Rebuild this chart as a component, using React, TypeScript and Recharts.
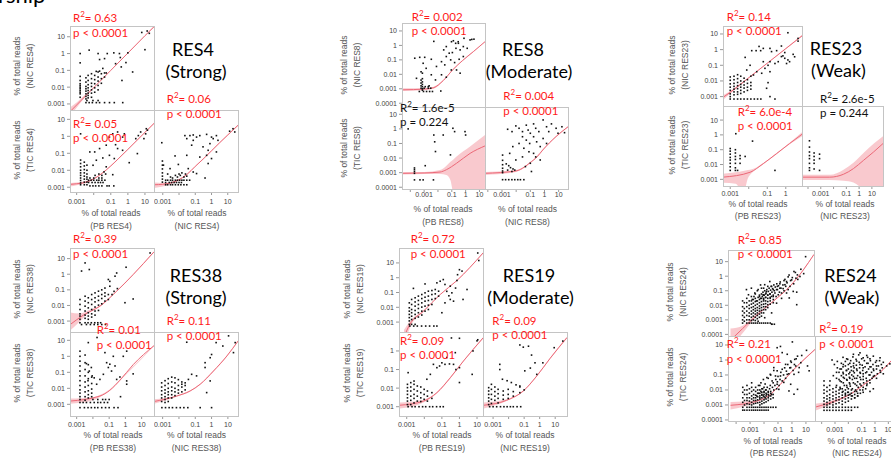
import React from 'react';
import { ComposedChart, XAxis, YAxis, Scatter, Line, Area } from 'recharts';

type Pair = [number, number];
type Stack = [number, number[]];
type Band = [number, number, number];

// ---------- RES4 ----------
// a: PB vs NIC, b: PB vs TIC, c: NIC vs TIC
const res4aPts: Pair[] = [[6.5,18],[13.5,22],[18,16],[10,1.7],[0.0016,1],[0.0016,0.28],[0.0054,1.6],[0.018,1],[0.062,1],[0.15,1.1],[0.32,1],[1,1.1],[0.36,0.58],[0.043,0.5],[0.19,0.25],[0.77,0.29],[0.41,0.16],[1.9,0.08],[0.45,0.025],[0.022,0.44],[0.014,0.087],[0.022,0.09],[0.034,0.13],[0.054,0.07],[0.5,0.0012],[0.16,0.0012],[0.084,0.0012]];
const res4aCols: Stack[] = [[0.0016,[0.044,0.025,0.016,0.0126,0.01,0.008,0.0063,0.005,0.004,0.0025]],[0.0035,[0.036,0.02,0.011,0.008,0.0058,0.004,0.0028,0.002]],[0.0047,[0.05,0.025,0.014,0.0091,0.0063,0.0044,0.0032,0.0023]],[0.0074,[0.063,0.032,0.017,0.011,0.0069,0.0044,0.0025]],[0.0114,[0.05,0.028,0.016,0.0091,0.005]],[0.018,[0.08,0.04,0.023,0.0126,0.0069]],[0.028,[0.063,0.032,0.017]],[0.043,[0.07,0.04]]];
const res4aRows: Stack[] = [[0.0012,[0.0035,0.0054,0.0083,0.0142,0.022,0.043]],[0.0016,[0.004,0.009,0.018]]];
const res4aFit: Pair[] = [[0.0004,0.00034],[0.001,0.00087],[0.01,0.0093],[0.1,0.1],[1,1.07],[10,11.5],[40,47]];
const res4aBand: Band[] = [[0.0004,0.0002,0.0006],[0.001,0.0006,0.0012],[0.003,0.0024,0.0034],[0.01,0.0088,0.0098],[0.1,0.097,0.103],[1,1.03,1.11],[10,11,12],[40,44,50]];

const res4bPts: Pair[] = [[11,1.4],[14,2.3],[4.1,1.1],[0.62,1.4],[5.6,1.8],[12,2.8],[2.9,0.73],[8.7,0.73],[0.0017,1.4],[0.083,0.9],[0.13,1.4],[0.25,1.8],[0.49,0.9],[0.19,0.32],[0.054,0.3],[0.022,0.19],[0.25,0.19],[0.49,0.15],[0.0114,0.12],[0.083,0.076],[0.16,0.049],[0.034,0.053],[0.0059,0.12],[0.0142,0.039],[1.2,0.028],[3.6,0.096],[0.0091,0.0197],[0.054,0.016],[0.13,0.0055],[0.012,0.005],[0.02,0.006],[0.03,0.005],[0.04,0.008],[0.05,0.006]];
const res4bCols: Stack[] = [[0.0017,[0.04,0.025,0.016,0.01,0.007,0.005,0.0035,0.0025,0.0018,0.0014]],[0.0028,[0.03,0.018,0.011,0.007,0.0045,0.003,0.002,0.0014]],[0.004,[0.02,0.01,0.006,0.004,0.003,0.002,0.0014]]];
const res4bRows: Stack[] = [[0.0026,[0.005,0.007,0.01,0.015,0.02,0.03,0.045]],[0.0019,[0.005,0.008,0.012,0.018,0.025,0.035]],[0.0012,[0.006,0.009,0.013,0.02,0.03,0.06,0.08,0.15]],[0.0035,[0.006,0.01,0.02,0.03]]];
const res4bFit: Pair[] = [[0.0004,0.00147],[0.001,0.0016],[0.003,0.0019],[0.01,0.0031],[0.03,0.0065],[0.1,0.018],[0.3,0.052],[1,0.17],[3,0.51],[10,1.7],[34,5.8]];
const res4bBand: Band[] = [[0.0004,0.0011,0.0018],[0.001,0.0013,0.0019],[0.01,0.0028,0.0034],[0.1,0.017,0.019],[1,0.16,0.18],[10,1.6,1.8],[34,5.4,6.2]];

const res4cPts: Pair[] = [[21,2.8],[13,2],[27,1.8],[0.023,1.1],[0.047,1.1],[0.075,1.2],[0.12,0.9],[0.19,1.1],[0.5,1.3],[1,0.9],[2,1.1],[0.03,0.73],[0.075,0.58],[1.27,0.73],[2.5,0.58],[0.00087,0.42],[0.06,0.3],[0.3,0.24],[0.8,0.37],[0.62,0.15],[2,0.12],[0.19,0.06],[0.5,0.076],[1,0.049],[0.62,0.025],[0.03,0.076],[0.0057,0.07],[0.0091,0.022],[0.0028,0.0125],[0.0011,0.02],[0.037,0.0125],[0.075,0.0079],[0.4,0.0035],[0.12,0.0064],[0.002,0.006],[0.003,0.004],[0.004,0.0035],[0.006,0.005],[0.008,0.004],[0.01,0.006],[0.012,0.005],[0.015,0.007],[0.02,0.004],[0.025,0.006],[0.03,0.0045]];
const res4cCols: Stack[] = [[0.00095,[0.035,0.02,0.012,0.007,0.0045,0.003,0.002]]];
const res4cRows: Stack[] = [[0.0026,[0.0015,0.002,0.003,0.004,0.006,0.008,0.011,0.015,0.02,0.03,0.045]],[0.0019,[0.0015,0.0025,0.0035,0.005,0.007,0.01,0.014]],[0.0014,[0.0015,0.002,0.003,0.004,0.006,0.009,0.013,0.02,0.03]]];
const res4cFit: Pair[] = [[0.0003,0.0014],[0.001,0.0015],[0.01,0.0028],[0.03,0.0055],[0.1,0.017],[0.3,0.045],[1,0.14],[3,0.4],[10,1.2],[43,4.5]];
const res4cBand: Band[] = [[0.0003,0.0009,0.0019],[0.001,0.0011,0.0018],[0.01,0.0025,0.0031],[0.1,0.016,0.018],[1,0.13,0.15],[10,1.1,1.3],[43,4.1,4.9]];

// ---------- RES8 ----------
const res8aPts: Pair[] = [[0.76,3.1],[0.095,1.8],[0.29,1.8],[2.8,2.6],[0.19,1.4],[0.005,1.9],[0.00021,0.13],[0.00048,0.15],[0.0011,0.15],[0.0033,0.11],[0.04,0.17],[0.083,0.1],[0.16,0.065],[0.34,0.11],[0.68,0.17],[0.018,0.075],[0.031,0.045],[0.065,0.29],[0.11,0.32],[0.2,0.63],[0.4,0.49],[0.68,0.83],[1.3,0.63],[0.3,1.4],[0.13,2.1],[2.1,2.4],[4,2.7],[0.04,0.83],[0.026,0.49],[0.0078,0.035],[0.0014,0.026],[0.0006,0.015],[0.0033,0.0093],[0.018,0.0093],[0.092,0.02],[0.22,0.02],[0.4,0.012],[0.04,0.0063],[0.00028,0.0053],[0.00085,0.058],[0.0066,0.0041],[0.0023,0.0016],[0.016,0.0007]];
const res8aCols: Stack[] = [[0.00075,[0.012,0.005,0.003,0.002,0.0014,0.001,0.0008]],[0.0006,[0.004,0.0025,0.0016,0.0011]]];
const res8aRows: Stack[] = [[0.00065,[0.00045,0.0009,0.0015,0.0025,0.004]],[0.0011,[0.001,0.002,0.003]],[0.0014,[0.0012,0.002]]];
const res8aFit: Pair[] = [[0.00003,0.00085],[0.001,0.00095],[0.005,0.0012],[0.024,0.0037],[0.125,0.022],[0.6,0.09],[3.6,0.37],[25,1.8]];
const res8aBand: Band[] = [[0.00003,0.0007,0.0011],[0.001,0.0008,0.0011],[0.005,0.001,0.0014],[0.024,0.0034,0.004],[0.125,0.021,0.023],[0.6,0.085,0.095],[3.6,0.35,0.39],[25,1.7,1.9]];

const res8bPts: Pair[] = [[0.005,0.38],[0.024,0.38],[0.0058,0.13],[0.0066,0.028],[0.12,1.1],[0.16,0.65],[0.9,0.65],[1.0,0.38],[0.08,0.0165],[0.00007,1],[0.0012,0.003],[0.0047,0.00032]];
const res8bCols: Stack[] = [[0.0002,[0.0021,0.0016,0.0012,0.0009,0.00032]]];
const res8bRows: Stack[] = [[0.00032,[0.0005,0.00085]]];
const res8bFit: Pair[] = [[0.00003,0.0009],[0.001,0.00095],[0.014,0.0011],[0.041,0.0016],[0.22,0.0044],[2.1,0.021],[25,0.068]];
const res8bBand: Band[] = [[0.00003,0.00075,0.0011],[0.001,0.0008,0.0011],[0.014,0.0008,0.0015],[0.041,0.0007,0.003],[0.08,0.0003,0.0055],[0.13,0.00003,0.008],[0.22,0.00001,0.0126],[2.1,0.00001,0.061],[25,0.00001,0.38]];

const res8cPts: Pair[] = [[0.0025,0.94],[0.0051,0.65],[0.0095,1.6],[0.016,1.1],[0.028,0.65],[0.052,1.8],[0.07,0.83],[0.1,0.5],[0.17,2.2],[0.24,1.1],[0.4,0.65],[0.8,4.1],[1.4,1.4],[2,0.65],[3.1,2.2],[6.6,1.1],[9,0.5],[17,1.4],[26,0.55],[0.028,0.29],[0.052,0.17],[0.09,0.1],[0.17,0.29],[0.28,0.13],[0.5,0.061],[0.8,0.22],[1.4,0.1],[0.016,0.1],[0.035,0.047],[0.08,0.027],[0.17,0.021],[0.0058,0.061],[0.0035,0.021],[0.028,0.012],[0.24,0.012],[0.5,0.0074],[0.1,0.0044],[0.0095,0.0074],[0.045,0.0026],[0.12,0.0012],[0.002,0.004],[0.003,0.003],[0.004,0.0022],[0.006,0.0018],[0.008,0.0015],[0.0025,0.0015],[0.005,0.0012]];
const res8cCols: Stack[] = [[0.0011,[0.016,0.007,0.0035,0.002,0.0013,0.001]]];
const res8cRows: Stack[] = [[0.00033,[0.0011,0.0018,0.003,0.005,0.008,0.013,0.02,0.035]]];
const res8cFit: Pair[] = [[0.00006,0.0009],[0.0095,0.0013],[0.04,0.0025],[0.085,0.0044],[0.3,0.012],[0.76,0.036],[6.6,0.3],[46,1.4]];
const res8cBand: Band[] = [[0.00006,0.0007,0.0011],[0.0095,0.0011,0.0015],[0.085,0.004,0.0048],[0.76,0.033,0.039],[6.6,0.28,0.32],[46,1.3,1.5]];

// ---------- RES23 ----------
const res23aPts: Pair[] = [[1.3,12],[4.6,5.2],[4.6,3.5],[0.036,1.6],[0.025,0.86],[0.0145,0.86],[0.044,0.86],[0.061,1.2],[0.14,1.2],[0.17,0.75],[0.32,0.86],[0.58,1.7],[0.88,0.65],[0.58,0.36],[0.88,0.28],[1.3,0.22],[1.6,0.17],[1.1,0.13],[0.39,0.17],[0.26,0.13],[0.14,0.17],[0.11,0.1],[0.061,0.17],[0.075,0.064],[0.14,0.039],[0.05,0.031],[0.027,0.039],[0.018,0.024],[0.0064,0.32],[0.0118,0.1],[0.0078,0.05],[0.11,0.0078],[0.092,0.0034],[0.14,0.001],[0.26,0.0007],[2.5,0.5],[3,0.35],[0.7,0.4]];
const res23aCols: Stack[] = [[0.001,[0.018,0.011,0.0065,0.004,0.0025,0.0015,0.001,0.0007]],[0.0016,[0.02,0.012,0.007,0.0045,0.003,0.002,0.0013,0.0007]],[0.0025,[0.025,0.014,0.008,0.005,0.0032,0.002,0.0014,0.0007]],[0.0037,[0.02,0.01,0.006,0.004,0.0025,0.0016,0.0007]],[0.0056,[0.015,0.009,0.0055,0.0035,0.002,0.0007]],[0.0085,[0.012,0.007,0.004,0.0025,0.0007]],[0.013,[0.02,0.008,0.005,0.003,0.0007]]];
const res23aRows: Stack[] = [[0.0007,[0.02,0.03,0.045]]];
const res23aFit: Pair[] = [[0.0004,0.00087],[0.001,0.0019],[0.01,0.016],[0.1,0.136],[1,1.16],[7.5,7.6]];
const res23aBand: Band[] = [[0.0004,0.0006,0.0012],[0.001,0.0015,0.0023],[0.01,0.015,0.017],[0.1,0.13,0.142],[1,1.08,1.25],[7.5,6.8,8.5]];

const res23bPts: Pair[] = [[0.002,1.2],[0.016,0.38],[0.26,0.004],[0.0064,0.035],[0.0025,0.004]];
const res23bCols: Stack[] = [[0.001,[0.12,0.08,0.05,0.03,0.02,0.012,0.007,0.004]],[0.0019,[0.1,0.06,0.035,0.022,0.012,0.006,0.004]],[0.0034,[0.04,0.025,0.012]]];
const res23bFit: Pair[] = [[0.0004,0.0014],[0.0118,0.003],[0.061,0.0115],[0.32,0.055],[1.6,0.26],[7.5,1.1]];
const res23bBand: Band[] = [[0.0004,0.0006,0.0024],[0.002,0.0005,0.003],[0.005,0.0001,0.0036],[0.009,0.0012,0.0042],[0.015,0.0028,0.0048],[0.061,0.0105,0.0128],[0.32,0.05,0.06],[1.6,0.23,0.3],[7.5,0.8,1.5]];

const res23cCols: Stack[] = [[0.00013,[0.4,0.15,0.07,0.04,0.025,0.012,0.006,0.004]],[0.0003,[0.06,0.035,0.02,0.012,0.005]],[0.0008,[0.05,0.025,0.004]]];
const res23cFit: Pair[] = [[0.00003,0.0014],[0.005,0.0014],[0.06,0.0022],[0.36,0.0053],[2.2,0.019],[13.5,0.07],[74,0.26]];
const res23cBand: Band[] = [[0.00003,0.0009,0.002],[0.005,0.0009,0.002],[0.06,0.0008,0.0045],[0.36,0.0006,0.013],[2.2,0.0002,0.06],[13.5,0.00005,0.25],[74,0.00002,0.8]];

// ---------- RES38 ----------
const res38aPts: Pair[] = [[0.0033,5.3],[0.006,2.0],[0.002,1.6],[1.1,2.8],[0.29,1.2],[0.23,0.75],[0.089,0.46],[0.11,0.35],[0.055,0.13],[0.32,0.12],[0.94,0.015],[3,0.026],[33,23],[0.11,0.17],[0.15,0.05],[0.2,0.08]];
const res38aCols: Stack[] = [[0.0016,[0.024,0.0116,0.0055,0.0029,0.0021,0.0013,0.00078]],[0.0033,[0.039,0.019,0.009,0.0044,0.0024,0.0015,0.00078]],[0.0052,[0.031,0.015,0.007,0.0034,0.0021,0.0013]],[0.0084,[0.05,0.024,0.0116,0.0055,0.0029,0.0018]],[0.0135,[0.064,0.031,0.017,0.0079,0.0044,0.0024]],[0.022,[0.082,0.039,0.021,0.0105,0.0048]],[0.035,[0.1,0.05,0.028,0.0128]],[0.055,[0.064,0.039,0.019]],[0.089,[0.05,0.024]]];
const res38aRows: Stack[] = [[0.00078,[0.005,0.008,0.013,0.02,0.03]],[0.0006,[0.002,0.004,0.007,0.012,0.02,0.035,0.06]]];
const res38aFit: Pair[] = [[0.0004,0.0006],[0.0026,0.0024],[0.027,0.009],[0.29,0.082],[3,0.95],[57,27]];
const res38aBand: Band[] = [[0.0004,0.00025,0.0035],[0.0015,0.0009,0.003],[0.005,0.0032,0.0048],[0.027,0.0083,0.0098],[0.29,0.078,0.087],[3,0.9,1.0],[57,25,29]];

const res38bPts: Pair[] = [[0.018,15],[0.0052,7.2],[0.055,1.7],[0.18,1.0],[1.2,2.1],[0.74,1.0],[0.07,0.4],[0.11,0.32],[0.089,0.2],[0.23,0.25],[0.14,0.12],[0.044,0.075],[0.027,0.036],[0.017,0.018],[0.29,0.036],[0.46,0.051],[1.2,0.029],[1.2,0.018],[0.004,0.35],[0.006,0.12],[0.009,0.06],[0.005,0.03],[0.012,0.045],[0.008,0.2],[3,0.08],[0.5,0.003]];
const res38bCols: Stack[] = [[0.0016,[2.1,1,0.5,0.25,0.12,0.06,0.03,0.015,0.008,0.005,0.003,0.002,0.0013]],[0.0033,[1.2,0.4,0.15,0.06,0.025,0.012,0.006,0.003,0.0018]],[0.0052,[0.3,0.1,0.04,0.015,0.007,0.004,0.0025]],[0.0084,[0.05,0.02,0.009,0.005,0.003]]];
const res38bRows: Stack[] = [[0.00062,[0.0016,0.003,0.005,0.008,0.013,0.02,0.035,0.06,0.1,0.2,0.35]],[0.0013,[0.0025,0.004,0.007,0.012,0.02,0.03,0.05,0.08]],[0.002,[0.01,0.02,0.04,0.06,0.1]]];
const res38bFit: Pair[] = [[0.0004,0.0016],[0.027,0.0033],[0.11,0.0075],[0.46,0.032],[3,0.3],[57,4.6]];
const res38bBand: Band[] = [[0.0004,0.0011,0.0023],[0.01,0.0018,0.0028],[0.1,0.0068,0.008],[1,0.065,0.08],[57,4.2,5]];

const res38cPts: Pair[] = [[11,19],[28,7.2],[0.03,7.6],[1.9,7.2],[4.9,4.4],[22,1.7],[1.0,1.3],[0.82,0.82],[0.4,0.4],[0.4,0.2],[0.12,0.06],[0.06,0.075],[0.038,0.036],[0.024,0.022],[0.015,0.018],[0.5,0.0054],[0.82,0.029],[1.0,0.00062],[0.2,0.00062]];
const res38cCols: Stack[] = [[0.00087,[0.022,0.012,0.007,0.004,0.0025,0.0015]],[0.0014,[0.03,0.015,0.008,0.005,0.003,0.002,0.0013]],[0.0022,[0.04,0.02,0.01,0.006,0.004,0.0025,0.0015]],[0.0036,[0.05,0.025,0.012,0.007,0.004,0.0025]],[0.0057,[0.045,0.022,0.01,0.006,0.0035]],[0.0092,[0.035,0.015,0.008,0.005]],[0.015,[0.025,0.012,0.006]],[0.024,[0.015,0.008]]];
const res38cRows: Stack[] = [[0.00062,[0.0009,0.0015,0.0025,0.004,0.007,0.012,0.02,0.035]]];
const res38cFit: Pair[] = [[0.0003,0.0015],[0.0073,0.0033],[0.048,0.0068],[0.2,0.018],[1.3,0.12],[8.7,1.05],[42,9]];
const res38cBand: Band[] = [[0.0003,0.0011,0.0021],[0.0073,0.003,0.0036],[0.048,0.0064,0.0072],[0.2,0.017,0.019],[1.3,0.11,0.13],[8.7,0.97,1.13],[42,8.3,9.8]];

// ---------- RES19 ----------
const res19aPts: Pair[] = [[11,47],[12.6,14.6],[1.0,3.5],[1.4,2.8],[0.78,1.6],[0.72,0.65],[2.7,0.16],[1.6,0.034],[0.12,0.75],[0.08,0.58],[0.052,0.45],[0.011,0.38],[0.15,0.35],[0.19,0.12],[0.3,0.27],[0.37,0.095],[0.46,0.026],[0.3,0.034],[0.15,0.02],[0.0024,0.19],[0.1,0.0043],[0.052,0.00054],[0.25,0.06],[0.6,0.2]];
const res19aCols: Stack[] = [[0.0014,[0.02,0.0093,0.0055,0.0033,0.002,0.0012,0.0007]],[0.0019,[0.034,0.0155,0.0071,0.0043,0.0025,0.0015,0.0007]],[0.003,[0.044,0.023,0.012,0.0061,0.0033,0.0018,0.0007]],[0.0046,[0.057,0.029,0.0155,0.0083,0.0043,0.0022]],[0.0072,[0.073,0.039,0.02,0.0103,0.0055,0.003]],[0.011,[0.095,0.048,0.026,0.012,0.0055]],[0.017,[0.123,0.057,0.029,0.014,0.0071]],[0.027,[0.136,0.073,0.034,0.0155]],[0.042,[0.16,0.081,0.039]],[0.065,[0.123,0.057]]];
const res19aRows: Stack[] = [[0.00054,[0.0015,0.0025,0.004,0.007,0.012,0.02,0.035]]];
const res19aFit: Pair[] = [[0.0007,0.0001],[0.0015,0.0007],[0.009,0.0055],[0.08,0.073],[0.72,0.65],[22,47]];
const res19aBand: Band[] = [[0.0007,0.00003,0.0003],[0.0015,0.0004,0.0011],[0.009,0.005,0.006],[0.08,0.07,0.076],[0.72,0.62,0.68],[22,43,51]];

const res19bPts: Pair[] = [[0.35,5],[1,4.8],[10,3.5],[11,4],[5.9,1.0],[0.58,0.81],[0.19,0.44],[0.1,0.23],[0.15,0.19],[0.074,0.155],[0.052,0.126],[0.033,0.19],[0.27,0.2],[0.46,0.19],[0.63,0.1],[1.0,0.126],[5.3,0.055],[1.0,0.02],[0.022,0.055],[0.014,0.03],[0.0012,0.068],[0.0026,0.024]];
const res19bCols: Stack[] = [[0.0011,[0.016,0.0106,0.007,0.0046,0.003,0.002,0.0013]],[0.0017,[0.0197,0.0115,0.007,0.0037,0.0022,0.0013]],[0.0026,[0.016,0.0086,0.0046,0.0028,0.0016]],[0.004,[0.013,0.007,0.0037,0.002]],[0.0063,[0.0115,0.0057,0.003,0.0019]],[0.0098,[0.0086,0.0046,0.0025]],[0.015,[0.007,0.0037,0.002]],[0.027,[0.0057,0.0028]]];
const res19bRows: Stack[] = [[0.001,[0.0012,0.002,0.003,0.005,0.008,0.012,0.02,0.03,0.05,0.08,0.12]]];
const res19bFit: Pair[] = [[0.0004,0.0012],[0.009,0.002],[0.052,0.0057],[0.3,0.036],[1.7,0.29],[22,5]];
const res19bBand: Band[] = [[0.0004,0.0008,0.0017],[0.009,0.0017,0.0024],[0.052,0.0052,0.0062],[0.3,0.033,0.04],[1.7,0.27,0.31],[22,4.6,5.5]];

const res19cPts: Pair[] = [[31,3.4],[8.6,1.5],[0.053,2.1],[0.088,1.6],[0.19,1.8],[0.0027,0.19],[0.0027,0.1],[0.5,0.23],[1.6,0.23],[0.65,0.055],[0.11,0.085],[0.053,0.013],[0.004,0.03],[0.008,0.025],[0.015,0.02],[0.03,0.015],[0.1,0.008],[0.3,0.6],[0.25,0.12]];
const res19cCols: Stack[] = [[0.00052,[0.0106,0.007,0.0046,0.003,0.002,0.0013]],[0.00078,[0.016,0.0086,0.0046,0.0025,0.0015]],[0.0013,[0.0115,0.0065,0.0037,0.0022]],[0.0021,[0.0086,0.005,0.0028,0.0016]],[0.0045,[0.007,0.0042,0.0025]],[0.0094,[0.0086,0.0046,0.0028]],[0.02,[0.0065,0.0037]],[0.053,[0.0115,0.0057]]];
const res19cRows: Stack[] = [[0.001,[0.0006,0.001,0.0017,0.003,0.005,0.008,0.013,0.02,0.035,0.06]]];
const res19cFit: Pair[] = [[0.00025,0.0012],[0.0073,0.0022],[0.088,0.007],[0.65,0.045],[4.7,0.4],[57,5.2]];
const res19cBand: Band[] = [[0.00025,0.0008,0.0017],[0.0073,0.002,0.0025],[0.088,0.0066,0.0075],[0.65,0.042,0.048],[4.7,0.37,0.43],[57,4.7,5.8]];

// ---------- RES24 ----------
const res24aPts: Pair[] = [[1.58,2.1],[2.8,1.23],[4.3,0.95],[2.2,0.73],[1.07,0.56],[0.46,0.43],[0.35,0.26],[0.81,0.2],[0.26,0.14],[0.15,0.15],[0.087,0.12],[0.066,0.07],[0.115,0.053],[0.2,0.07],[0.46,0.07],[1.4,0.09],[2.5,0.08],[0.72,0.032],[2.5,0.011],[0.038,0.2],[0.028,0.43],[0.012,0.26],[0.007,0.15],[0.016,0.09],[0.038,0.041],[0.0093,0.053],[0.004,0.12],[0.0023,0.07],[0.0013,0.15],[0.00057,0.12],[0.0008,0.053],[0.087,0.014],[0.038,0.003],[0.012,0.0014],[0.004,0.0008],[0.038,0.0005],[11,22],[5,3],[8,1.5],[0.3,0.5],[0.6,0.9],[0.15,0.3],[0.05,0.12],[0.1,0.2]];
const res24aCloud: Pair[] = [[0.003,0.02],[0.004,0.035],[0.005,0.05],[0.006,0.03],[0.007,0.06],[0.008,0.04],[0.009,0.08],[0.01,0.025],[0.011,0.05],[0.012,0.1],[0.014,0.035],[0.015,0.07],[0.017,0.12],[0.02,0.05],[0.022,0.09],[0.025,0.15],[0.028,0.06],[0.03,0.03],[0.032,0.11],[0.035,0.2],[0.04,0.08],[0.045,0.14],[0.05,0.05],[0.055,0.25],[0.06,0.1],[0.07,0.18],[0.08,0.04],[0.09,0.3],[0.1,0.12],[0.12,0.22],[0.14,0.08],[0.16,0.4],[0.18,0.15],[0.2,0.03],[0.25,0.25],[0.3,0.1],[0.35,0.6],[0.4,0.2],[0.5,0.35],[0.6,0.12],[0.7,1.2],[0.9,0.5],[1.2,0.8],[1.5,0.3],[2,1.8],[3,0.6],[0.002,0.04],[0.0015,0.025],[0.0025,0.06],[0.0035,0.1],[0.02,0.2],[0.01,0.15],[0.006,0.25]];
const res24aCols: Stack[] = [[0.0003,[0.02,0.008,0.004,0.002,0.001,0.0006]],[0.0004,[0.015,0.006,0.003,0.0015,0.0008]],[0.0006,[0.03,0.015,0.008,0.004,0.002,0.001,0.0006]],[0.0009,[0.02,0.01,0.006,0.003,0.0018,0.001,0.0006]],[0.0013,[0.04,0.02,0.012,0.007,0.004,0.0025,0.0015,0.0009,0.0006]],[0.0018,[0.025,0.014,0.008,0.005,0.003,0.0018,0.001,0.0006]],[0.0025,[0.03,0.018,0.01,0.006,0.004,0.0025,0.0015,0.0009,0.0006]],[0.0035,[0.02,0.012,0.007,0.0045,0.003,0.002,0.0012,0.0006]],[0.005,[0.04,0.025,0.015,0.009,0.006,0.004,0.0025,0.0015,0.0006]],[0.007,[0.03,0.018,0.011,0.007,0.0045,0.003,0.0018,0.0006]],[0.01,[0.05,0.03,0.02,0.012,0.008,0.005,0.003,0.0006]],[0.014,[0.06,0.035,0.02,0.013,0.008,0.005,0.0006]],[0.02,[0.05,0.03,0.018,0.011,0.007,0.0006]],[0.03,[0.06,0.035,0.02,0.012,0.0006]],[0.05,[0.04,0.025,0.015]]];
const res24aRows: Stack[] = [[0.0005,[0.04,0.06]]];
const res24aFit: Pair[] = [[0.00004,0.00004],[0.0003,0.00025],[0.003,0.002],[0.05,0.019],[0.8,0.2],[7.5,2.7],[44,31]];
const res24aBand: Band[] = [[0.00004,0.00001,0.00025],[0.0003,0.00012,0.0004],[0.003,0.0017,0.0024],[0.05,0.018,0.021],[0.8,0.19,0.22],[7.5,2.5,2.9],[44,28,34]];

const res24bPts: Pair[] = [[0.087,6.6],[0.2,3.1],[0.46,2.4],[0.81,0.85],[1.58,1.1],[2.5,1.8],[4.3,0.66],[1.86,0.4],[0.81,0.31],[0.35,0.51],[0.2,0.24],[0.087,0.19],[0.05,0.31],[0.028,0.11],[0.066,0.086],[0.15,0.086],[0.46,0.11],[1.4,0.11],[3.3,0.31],[13,0.4],[17,0.19],[0.038,0.04],[0.087,0.024],[0.26,0.032],[0.81,0.024],[2.5,0.011],[0.61,0.0086],[1.4,0.0052],[0.115,0.011],[0.016,0.067],[1.07,16],[11,4.4],[0.15,8]];
const res24bCloud: Pair[] = [[0.003,0.004],[0.004,0.006],[0.005,0.003],[0.006,0.008],[0.007,0.005],[0.008,0.012],[0.009,0.004],[0.01,0.007],[0.012,0.003],[0.013,0.01],[0.015,0.005],[0.017,0.015],[0.02,0.007],[0.022,0.004],[0.025,0.012],[0.028,0.02],[0.03,0.008],[0.035,0.005],[0.04,0.015],[0.045,0.03],[0.05,0.01],[0.06,0.02],[0.07,0.05],[0.08,0.012],[0.09,0.035],[0.1,0.08],[0.12,0.02],[0.14,0.05],[0.16,0.15],[0.2,0.04],[0.25,0.1],[0.3,0.3],[0.35,0.06],[0.4,0.18],[0.5,0.5],[0.6,0.12],[0.7,0.3],[0.9,0.7],[1.2,0.2],[1.5,0.5],[2,1.2],[3,0.15],[5,2],[0.004,0.02],[0.006,0.03],[0.009,0.05],[0.012,0.025],[0.02,0.06],[0.03,0.1],[0.05,0.2]];
const res24bCols: Stack[] = [[0.0003,[0.015,0.007,0.003,0.0015,0.0007,0.00045]],[0.0004,[0.01,0.005,0.002,0.001,0.00045]],[0.0006,[0.02,0.01,0.005,0.003,0.002,0.0012,0.0007,0.00045]],[0.0009,[0.012,0.006,0.003,0.0018,0.0011,0.0007,0.00045]],[0.0013,[0.03,0.015,0.008,0.004,0.0025,0.0015,0.001,0.0007,0.00045]],[0.0018,[0.01,0.005,0.003,0.002,0.0012,0.0007,0.00045]],[0.0025,[0.015,0.008,0.0045,0.003,0.002,0.0013,0.0007,0.00045]],[0.0035,[0.01,0.006,0.0035,0.0022,0.0014,0.0007,0.00045]],[0.005,[0.02,0.01,0.006,0.004,0.0025,0.0015,0.001,0.0007,0.00045]],[0.007,[0.012,0.007,0.0045,0.003,0.0018,0.0012,0.0007,0.00045]],[0.01,[0.015,0.008,0.005,0.0035,0.0022,0.0014,0.0007,0.00045]],[0.014,[0.01,0.006,0.004,0.0025,0.0016,0.0007,0.00045]],[0.02,[0.008,0.005,0.003,0.002,0.0007,0.00045]],[0.03,[0.006,0.004,0.0025,0.0007]],[0.045,[0.005,0.003,0.0007]],[0.07,[0.0007]]];
const res24bFit: Pair[] = [[0.00004,0.00095],[0.003,0.0018],[0.028,0.005],[0.15,0.024],[0.8,0.14],[7.5,1.1],[44,5]];
const res24bBand: Band[] = [[0.00004,0.0005,0.0016],[0.003,0.0015,0.0021],[0.028,0.0047,0.0054],[0.15,0.023,0.026],[0.8,0.13,0.15],[7.5,1,1.2],[44,4.5,5.6]];

const res24cPts: Pair[] = [[0.024,2.4],[0.075,3],[0.13,1.4],[0.24,2],[0.42,1.2],[0.75,1.8],[1.3,0.9],[2.4,1.4],[4.2,0.7],[7.5,0.4],[13,0.55],[0.042,0.85],[0.013,0.6],[0.0075,1.2],[0.0042,0.5],[0.024,0.4],[0.075,0.5],[0.13,0.3],[0.24,0.6],[0.42,0.35],[0.75,0.25],[1.3,0.4],[2.4,0.2],[4.2,0.12],[0.0024,0.25],[0.0013,0.15],[0.0042,0.12],[0.0075,0.2],[0.013,0.15],[0.024,0.18],[0.042,0.25],[0.075,0.15],[0.13,0.12],[0.24,0.16],[0.42,0.1],[0.75,0.08],[1.3,0.06],[0.024,0.08],[0.042,0.06],[0.075,0.07],[0.13,0.05],[0.24,0.04],[0.42,0.03],[0.013,0.06],[0.0075,0.05],[0.0042,0.07],[0.0024,0.04],[0.0013,0.06],[0.00075,0.09],[0.00042,0.04],[0.24,0.02],[0.13,0.015],[0.075,0.025],[0.042,0.008],[0.024,0.03],[0.013,0.025],[0.0075,0.02],[0.0042,0.03],[0.0024,0.015],[0.0013,0.02],[0.42,0.008],[0.75,0.012],[0.13,0.007],[0.075,0.01],[0.042,0.02]];
const res24cCloud: Pair[] = [[0.0006,1],[0.0009,0.5],[0.0015,0.8],[0.0015,0.3],[0.002,0.15],[0.002,0.05],[0.003,0.6],[0.003,0.25],[0.003,0.09],[0.003,0.035],[0.004,1.5],[0.004,0.35],[0.004,0.15],[0.005,0.06],[0.005,0.02],[0.006,0.8],[0.006,0.4],[0.007,0.2],[0.007,0.1],[0.008,0.045],[0.008,0.015],[0.009,1.1],[0.01,0.5],[0.01,0.25],[0.011,0.12],[0.012,0.07],[0.012,0.03],[0.014,0.018],[0.015,0.9],[0.016,0.35],[0.017,0.2],[0.018,0.1],[0.02,0.05],[0.02,0.012],[0.022,1.6],[0.025,0.6],[0.027,0.3],[0.028,0.14],[0.03,0.06],[0.032,0.025],[0.035,0.01],[0.038,1.1],[0.04,0.45],[0.045,0.2],[0.05,0.09],[0.05,0.035],[0.055,0.015],[0.06,2.2],[0.065,0.7],[0.07,0.3],[0.08,0.13],[0.085,0.05],[0.09,0.02],[0.1,1.2],[0.11,0.45],[0.12,0.2],[0.13,0.08],[0.14,0.03],[0.16,0.9],[0.18,0.35],[0.2,0.14],[0.22,0.06],[0.25,0.025],[0.28,1.5],[0.3,0.6],[0.33,0.25],[0.36,0.1],[0.4,0.045],[0.45,0.9],[0.5,0.35],[0.55,0.15],[0.6,0.06],[0.7,0.5],[0.8,0.2],[0.9,0.09],[1.1,0.7],[1.3,0.25],[1.5,0.12],[1.8,0.4],[2.2,0.9],[2.6,0.15],[3,0.5],[3.5,0.3],[0.0025,0.012],[0.004,0.008],[0.006,0.005],[0.009,0.007],[0.013,0.005],[0.02,0.004],[0.03,0.003],[0.05,0.004],[0.08,0.006],[0.12,0.01],[0.2,0.012]];
const res24cCols: Stack[] = [[0.00015,[0.04,0.02,0.01,0.006,0.003,0.0018,0.0011,0.0007,0.00044]],[0.00025,[0.015,0.008,0.004,0.0025,0.0015,0.001,0.0007,0.00044]],[0.0004,[0.02,0.01,0.005,0.003,0.002,0.0012,0.0007,0.00044]],[0.0007,[0.012,0.007,0.004,0.0025,0.0015,0.001,0.0007,0.00044]],[0.0012,[0.015,0.008,0.005,0.003,0.002,0.0012,0.0007,0.00044]],[0.002,[0.01,0.006,0.0035,0.0022,0.0014,0.0007,0.00044]],[0.0035,[0.012,0.007,0.0045,0.003,0.0018,0.0011,0.0007,0.00044]],[0.006,[0.01,0.006,0.004,0.0025,0.0015,0.0007,0.00044]],[0.01,[0.012,0.007,0.0045,0.003,0.0018,0.0007,0.00044]],[0.017,[0.01,0.006,0.004,0.0025,0.0007,0.00044]],[0.03,[0.008,0.005,0.003,0.0007]],[0.05,[0.006,0.004,0.0007]]];
const res24cFit: Pair[] = [[0.00003,0.0007],[0.0004,0.0014],[0.013,0.005],[0.24,0.032],[4.2,0.24],[16,0.86],[180,8]];
const res24cBand: Band[] = [[0.00003,0.0004,0.0012],[0.0004,0.001,0.0018],[0.013,0.0046,0.0058],[0.24,0.03,0.035],[4.2,0.22,0.26],[16,0.8,0.95],[180,7,9.5]];

// ---------- helpers ----------
const toPts = (pts: Pair[], cols: Stack[] = [], rows: Stack[] = []) => [
  ...pts.map(([x, y]) => ({ x, y })),
  ...cols.flatMap(([x, ys]) => ys.map((y) => ({ x, y }))),
  ...rows.flatMap(([y, xs]) => xs.map((x) => ({ x, y }))),
];
const toFit = (f: Pair[]) => f.map(([x, y]) => ({ x, y }));
const toBand = (b: Band[]) => b.map(([x, lo, hi]) => ({ x, range: [lo, hi] }));

const TICKS = [0.0001, 0.001, 0.01, 0.1, 1, 10, 100];
const X_LABELED = [0.001, 0.1, 1, 10];
const ticksIn = (d: number[]) =>
  TICKS.filter((t) => Math.log10(t) >= d[0] - 0.04 && Math.log10(t) <= d[1] - 0.05);

interface PanelSpec {
  box: number[];
  xd: number[];
  yd: number[];
  showX: boolean;
  showY: boolean;
  gap?: number;
  pts: { x: number; y: number }[];
  fit: Pair[];
  band: Band[];
}

const panels: PanelSpec[] = [
  // RES4
  { box: [70, 26, 154, 110], xd: [-3.39, 1.53], yd: [-3.36, 1.64], showX: false, showY: true, pts: toPts(res4aPts, res4aCols, res4aRows), fit: res4aFit, band: res4aBand },
  { box: [70, 110, 154, 192], xd: [-3.39, 1.53], yd: [-3.28, 1.55], showX: true, showY: true, gap: 4.5, pts: toPts(res4bPts, res4bCols, res4bRows), fit: res4bFit, band: res4bBand },
  { box: [154, 110, 238, 192], xd: [-3.54, 1.63], yd: [-3.28, 1.55], showX: true, showY: false, gap: 4.5, pts: toPts(res4cPts, res4cCols, res4cRows), fit: res4cFit, band: res4cBand },
  // RES8
  { box: [402, 23, 485, 107], xd: [-4.6, 1.4], yd: [-4.26, 1.55], showX: false, showY: true, pts: toPts(res8aPts, res8aCols, res8aRows), fit: res8aFit, band: res8aBand },
  { box: [402, 107, 485, 189], xd: [-4.6, 1.4], yd: [-4.12, 1.5], showX: true, showY: true, gap: 0, pts: toPts(res8bPts, res8bCols, res8bRows), fit: res8bFit, band: res8bBand },
  { box: [485, 107, 568, 189], xd: [-4.2, 1.66], yd: [-4.12, 1.5], showX: true, showY: false, gap: 0, pts: toPts(res8cPts, res8cCols, res8cRows), fit: res8cFit, band: res8cBand },
  // RES23
  { box: [723, 26, 802, 106], xd: [-3.39, 0.875], yd: [-3.6, 1.51], showX: false, showY: true, pts: toPts(res23aPts, res23aCols, res23aRows), fit: res23aFit, band: res23aBand },
  { box: [723, 106, 802, 186], xd: [-3.39, 0.875], yd: [-3.45, 1.95], showX: true, showY: true, gap: 2, pts: toPts(res23bPts, res23bCols), fit: res23bFit, band: res23bBand },
  { box: [802, 106, 883, 186], xd: [-4.47, 1.87], yd: [-3.45, 1.95], showX: true, showY: false, gap: 2, pts: toPts([], res23cCols), fit: res23cFit, band: res23cBand },
  // RES38
  { box: [70, 248, 154, 332], xd: [-3.41, 1.76], yd: [-3.7, 1.68], showX: false, showY: true, pts: toPts(res38aPts, res38aCols, res38aRows), fit: res38aFit, band: res38aBand },
  { box: [70, 332, 154, 416], xd: [-3.41, 1.76], yd: [-3.73, 1.52], showX: true, showY: true, gap: 3, pts: toPts(res38bPts, res38bCols, res38bRows), fit: res38bFit, band: res38bBand },
  { box: [154, 332, 238, 416], xd: [-3.53, 1.62], yd: [-3.73, 1.52], showX: true, showY: false, gap: 3, pts: toPts(res38cPts, res38cCols, res38cRows), fit: res38cFit, band: res38cBand },
  // RES19
  { box: [399, 248, 483, 332], xd: [-3.44, 1.34], yd: [-3.67, 2.01], showX: false, showY: true, pts: toPts(res19aPts, res19aCols, res19aRows), fit: res19aFit, band: res19aBand },
  { box: [399, 332, 483, 416], xd: [-3.44, 1.34], yd: [-3.5, 1.02], showX: true, showY: true, gap: 3, pts: toPts(res19bPts, res19bCols, res19bRows), fit: res19bFit, band: res19bBand },
  { box: [483, 332, 567, 416], xd: [-3.65, 1.76], yd: [-3.5, 1.02], showX: true, showY: false, gap: 3, pts: toPts(res19cPts, res19cCols, res19cRows), fit: res19cFit, band: res19cBand },
  // RES24
  { box: [728, 250, 814, 336], xd: [-4.58, 1.65], yd: [-4.11, 1.8], showX: false, showY: true, pts: toPts([...res24aPts, ...res24aCloud], res24aCols, res24aRows), fit: res24aFit, band: res24aBand },
  { box: [728, 336, 815, 421], xd: [-4.58, 1.65], yd: [-4.07, 1.6], showX: true, showY: true, gap: 3.5, pts: toPts([...res24bPts, ...res24bCloud], res24bCols), fit: res24bFit, band: res24bBand },
  { box: [815, 336, 905, 421], xd: [-4.5, 2.25], yd: [-4.07, 1.6], showX: true, showY: false, gap: 3.5, pts: toPts([...res24cPts, ...res24cCloud], res24cCols), fit: res24cFit, band: res24cBand },
];

// text blocks: [x, baseline of R line, r value, p text, significant]
const stats: [number, number, string, string, boolean][] = [
  [73, 22, '0.63', 'p < 0.0001', true], [73, 127.5, '0.05', 'p < 0.0001', true], [166.7, 103.3, '0.06', 'p < 0.0001', true],
  [411.7, 20.7, '0.002', 'p < 0.0001', true], [400, 111.7, '1.6e-5', 'p = 0.224', false], [503.3, 100, '0.004', 'p < 0.0001', true],
  [726.7, 20.7, '0.14', 'p < 0.0001', true], [737.7, 115.7, '6.0e-4', 'p < 0.0001', true], [820, 102.7, '2.6e-5', 'p = 0.244', false],
  [73, 243, '0.39', 'p < 0.0001', true], [96.7, 334, '0.01', 'p < 0.0001', true], [166.7, 325.3, '0.11', 'p < 0.0001', true],
  [410.7, 243, '0.72', 'p < 0.0001', true], [400, 344.7, '0.09', 'p < 0.0001', true], [492.3, 324.7, '0.09', 'p < 0.0001', true],
  [737.7, 243.7, '0.85', 'p < 0.0001', true], [726.7, 348, '0.21', 'p < 0.0001', true], [819.3, 333, '0.19', 'p < 0.0001', true],
];

const titles: [string, number, number][] = [
  ['RES4', 193, 55.5], ['(Strong)', 196, 77.5],
  ['RES8', 523, 55.5], ['(Moderate)', 529, 77.5],
  ['RES23', 836, 54.5], ['(Weak)', 838.5, 77],
  ['RES38', 196, 281.5], ['(Strong)', 196, 303.5],
  ['RES19', 529, 281.5], ['(Moderate)', 530.5, 303.5],
  ['RES24', 850.5, 281.5], ['(Weak)', 852, 303.5],
];

// rotated y labels: [x of first line, x of second line, centre y, sample]
const yLabels: [number, number, number, string][] = [
  [17, 29.5, 66, 'NIC RES4'], [17, 29.5, 150, 'TIC RES4'],
  [344, 357, 65, 'NIC RES8'], [344, 357, 148, 'TIC RES8'],
  [672, 685, 65, 'NIC RES23'], [672, 685, 145, 'TIC RES23'],
  [17, 29.5, 289, 'NIC RES38'], [17, 29.5, 373, 'TIC RES38'],
  [347, 360, 289, 'NIC RES19'], [347, 360, 373, 'TIC RES19'],
  [670, 683, 292, 'NIC RES24'], [670, 683, 377, 'TIC RES24'],
];

// x labels: [centre x, baseline 1, baseline 2, sample]
const xLabels: [number, number, number, string][] = [
  [111, 216, 229, 'PB RES4'], [197, 216, 229, 'NIC RES4'],
  [443, 212, 224.5, 'PB RES8'], [527.5, 212, 224.5, 'NIC RES8'],
  [758, 206.5, 219, 'PB RES23'], [845, 206.5, 219, 'NIC RES23'],
  [113, 438, 451, 'PB RES38'], [196.5, 438, 451, 'NIC RES38'],
  [442, 438, 451, 'PB RES19'], [525, 438, 451, 'NIC RES19'],
  [773, 444, 455.5, 'PB RES24'], [857, 444, 455.5, 'NIC RES24'],
];

const Dot = (props: any) => (
  <rect x={props.cx - 0.8} y={props.cy - 0.8} width={1.6} height={1.6} fill="#111" />
);

const tickStyle = { fontSize: 7, fill: '#444', fontFamily: 'Liberation Sans, Arial, sans-serif' };
const PAD = 6; // room for tick labels that sit on the panel edge

const Panel = ({ p }: { p: PanelSpec }) => {
  const [l, t, r, b] = p.box;
  const yw = p.showY ? 40 : 0;
  const xh = p.showX ? 22 : 0;
  return (
    <div style={{ position: 'absolute', left: l - yw, top: t - PAD }}>
      <ComposedChart width={r - l + yw} height={b - t + xh + 2 * PAD} margin={{ top: PAD, right: 0, bottom: PAD, left: 0 }}>
        <XAxis
          type="number"
          dataKey="x"
          scale="log"
          domain={[10 ** p.xd[0], 10 ** p.xd[1]]}
          allowDataOverflow
          ticks={ticksIn(p.xd)}
          interval={0}
          hide={!p.showX}
          height={xh}
          tickSize={3}
          tickMargin={p.gap ?? 2}
          axisLine={false}
          tickLine={{ stroke: '#999' }}
          tick={tickStyle}
          tickFormatter={(v: number) => (X_LABELED.includes(v) ? String(v) : '')}
        />
        <YAxis
          type="number"
          dataKey="y"
          scale="log"
          domain={[10 ** p.yd[0], 10 ** p.yd[1]]}
          allowDataOverflow
          ticks={ticksIn(p.yd)}
          interval={0}
          hide={!p.showY}
          width={yw}
          tickSize={3}
          tickMargin={2}
          axisLine={false}
          tickLine={{ stroke: '#999' }}
          tick={tickStyle}
          tickFormatter={(v: number) => String(v)}
        />
        <Area data={toBand(p.band)} dataKey="range" type="monotone" stroke="none" fill="#f8c3c9" fillOpacity={0.9} isAnimationActive={false} />
        <Line data={toFit(p.fit)} dataKey="y" type="monotone" stroke="#ec6877" strokeWidth={1} dot={false} isAnimationActive={false} />
        <Scatter data={p.pts} shape={Dot} isAnimationActive={false} />
      </ComposedChart>
    </div>
  );
};

const labelFont = 'Liberation Sans, Arial, sans-serif';
const bigFont = 'Lato, Open Sans, sans-serif';

export default function App() {
  return (
    <div style={{ position: 'absolute', left: 0, top: 0, width: 891, height: 458, overflow: 'hidden', background: '#fff' }}>
      {panels.map((p, i) => (
        <Panel key={i} p={p} />
      ))}
      <svg width={891} height={458} style={{ position: 'absolute', left: 0, top: 0, pointerEvents: 'none' }}>
        <text x={-2} y={3} fontSize={22} fontFamily={bigFont} fill="#000">rship</text>
        {panels.map((p, i) => (
          <rect key={i} x={p.box[0] + 0.5} y={p.box[1] + 0.5} width={p.box[2] - p.box[0]} height={p.box[3] - p.box[1]} fill="none" stroke="#c4c4c4" strokeWidth={1} />
        ))}
        {titles.map(([s, x, y], i) => (
          <text key={i} x={x} y={y} textAnchor="middle" fontSize={18} fontFamily={bigFont} fill="#000">{s}</text>
        ))}
        {stats.map(([x, y, rv, pv, sig], i) => {
          const c = sig ? '#ff1a1a' : '#111';
          return (
            <g key={i} fontFamily={bigFont} fontSize={11.5} fill={c}>
              <text x={x} y={y}>
                R<tspan dy={-5} fontSize={8}>2</tspan>
                <tspan dy={5}>= {rv}</tspan>
              </text>
              <text x={x} y={y + 14.5}>{pv}</text>
            </g>
          );
        })}
        {yLabels.map(([x1, x2, cy, s], i) => (
          <g key={i} fontFamily={labelFont} fontSize={8.5} fill="#555" textAnchor="middle">
            <text transform={`translate(${x1 + 3},${cy}) rotate(-90)`}>% of total reads</text>
            <text transform={`translate(${x2 + 3},${cy}) rotate(-90)`}>({s})</text>
          </g>
        ))}
        {xLabels.map(([cx, y1, y2, s], i) => (
          <g key={i} fontFamily={labelFont} fontSize={8.5} fill="#555" textAnchor="middle">
            <text x={cx} y={y1}>% of total reads</text>
            <text x={cx} y={y2}>({s})</text>
          </g>
        ))}
      </svg>
    </div>
  );
}
